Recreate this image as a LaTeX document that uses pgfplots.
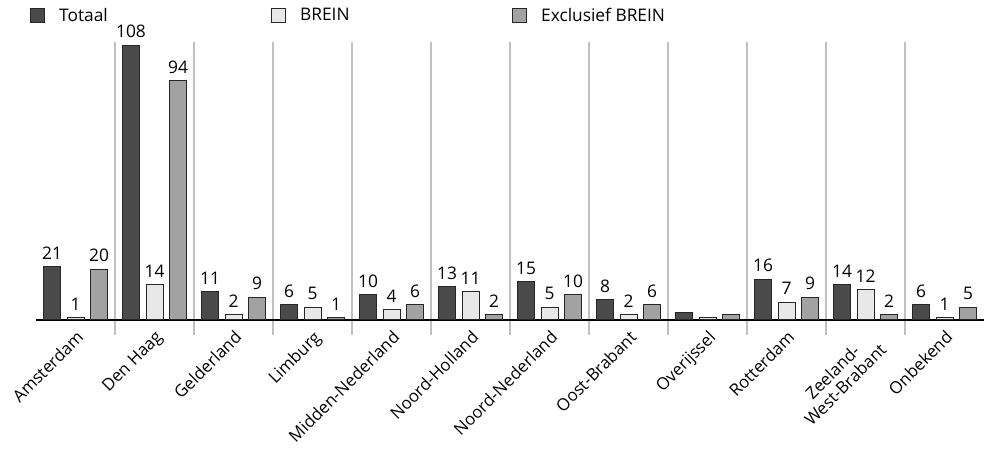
\documentclass[border=0pt]{standalone}
\usepackage{fontspec}
\setmainfont{Open Sans}
\usepackage{pgfplots}
\pgfplotsset{compat=1.18}
\pgfplotsset{/pgf/number format/assume math mode=true}

\definecolor{cTot}{HTML}{4A4A4A}
\definecolor{cBre}{HTML}{E8E8E8}
\definecolor{cExc}{HTML}{A2A2A2}
\definecolor{cSep}{HTML}{C0C0C0}

\pgfplotsset{sq/.style={legend image code/.code={\draw[##1] (0pt,-5.4pt) rectangle (10.8pt,5.4pt);}}}

\begin{document}
\begin{tikzpicture}[font=\fontsize{13}{15}\selectfont]
\begin{axis}[
  scale only axis,
  width=711pt, height=208.5pt,
  xmin=-0.5, xmax=11.5, ymin=0, ymax=109.2,
  enlargelimits=false,
  clip=false,
  ybar=4.875pt, bar width=12.75pt,
  axis x line=bottom, axis y line=none,
  axis line style={-, black, line width=1.1pt},
  xtick={0,...,11},
  xticklabels={Amsterdam,Den Haag,Gelderland,Limburg,Midden-Nederland,Noord-Holland,Noord-Nederland,Oost-Brabant,Overijssel,Rotterdam,{Zeeland-\\West-Brabant},Onbekend},
  xticklabel style={rotate=45, anchor=north east, inner sep=0pt, align=center,
    font=\fontsize{12.6}{13.5}\selectfont},
  xticklabel shift=7pt,
  major tick length=0pt,
  minor xtick={0.5,1.5,...,10.5},
  xminorgrids=true,
  minor grid style={cSep, line width=1pt},
  minor tick length=11pt,
  tick align=outside,
  minor x tick style={cSep, line width=1pt},
  nodes near coords,
  point meta=explicit symbolic,
  every node near coord/.append style={anchor=south, inner sep=0pt, yshift=5pt, black},
  legend columns=3,
  legend style={draw=none, fill=none, inner sep=0pt,
    at={(rel axis cs:-0.0069,1.095)}, anchor=west,
    nodes={inner sep=0pt},
    /tikz/every odd column/.append style={column sep=10.5pt}},
  legend cell align=left,
]
\addplot[fill=cTot, draw=black!85, line width=0.75pt, sq]
  coordinates {(0,21)[21] (1,108)[108] (2,11)[11] (3,6)[6] (4,10)[10] (5,13)[13]
               (6,15)[15] (7,8)[8] (8,3)[] (9,16)[16] (10,14)[14] (11,6)[6]};
\addlegendentry{\makebox[158.7pt][l]{Totaal}}
\addplot[fill=cBre, draw=black!85, line width=0.75pt, sq]
  coordinates {(0,1)[1] (1,14)[14] (2,2)[2] (3,5)[5] (4,4)[4] (5,11)[11]
               (6,5)[5] (7,2)[2] (8,1)[] (9,7)[7] (10,12)[12] (11,1)[1]};
\addlegendentry{\makebox[158.7pt][l]{BREIN}}
\addplot[fill=cExc, draw=black!85, line width=0.75pt, sq]
  coordinates {(0,20)[20] (1,94)[94] (2,9)[9] (3,1)[1] (4,6)[6] (5,2)[2]
               (6,10)[10] (7,6)[6] (8,2)[] (9,9)[9] (10,2)[2] (11,5)[5]};
\addlegendentry{Exclusief BREIN}
\coordinate (bbA) at (rel axis cs:-0.038,-0.464);
\coordinate (bbB) at (rel axis cs:1.00422,1.151);
\end{axis}
\pgfresetboundingbox
\path[use as bounding box] (bbA) rectangle (bbB);
\end{tikzpicture}
\end{document}
